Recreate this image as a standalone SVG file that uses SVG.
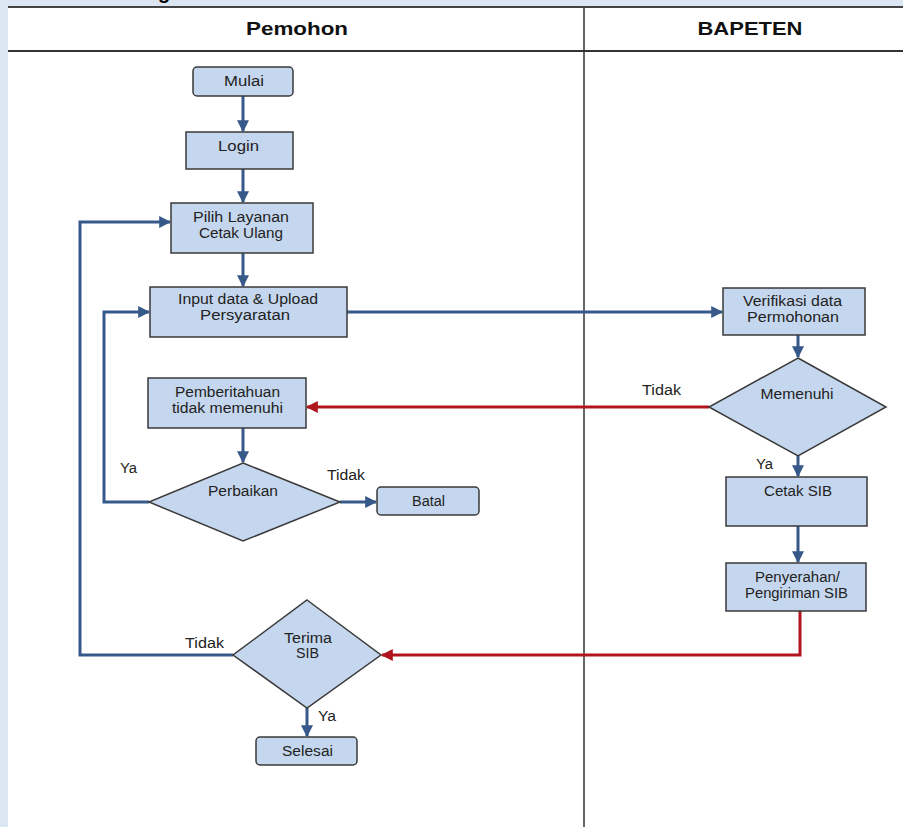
<svg xmlns="http://www.w3.org/2000/svg" width="903" height="827" viewBox="0 0 903 827">
<style>
.n{fill:#c5d7ee;stroke:#3a3a3a;stroke-width:1.5}
.t{font-family:"Liberation Sans",Arial,sans-serif;font-size:14px;fill:#222;text-anchor:middle}
.l{font-family:"Liberation Sans",Arial,sans-serif;font-size:14px;fill:#222}
.h{font-family:"Liberation Sans",Arial,sans-serif;font-size:18px;font-weight:bold;fill:#111;text-anchor:middle}
.b{fill:none;stroke:#36598a;stroke-width:3}
.r{fill:none;stroke:#b0141c;stroke-width:3}
</style>
<defs>
<marker id="ab" viewBox="0 0 10 10" refX="9" refY="5" markerWidth="4" markerHeight="4" orient="auto" markerUnits="strokeWidth"><path d="M0,0 L10,5 L0,10 z" fill="#36598a"/></marker>
<marker id="ar" viewBox="0 0 10 10" refX="9" refY="5" markerWidth="4" markerHeight="4" orient="auto" markerUnits="strokeWidth"><path d="M0,0 L10,5 L0,10 z" fill="#b0141c"/></marker>
</defs>
<rect x="0" y="0" width="903" height="827" fill="#dce6f2"/>
<rect x="8" y="7" width="895" height="820" fill="#ffffff"/>
<text x="158" y="-1" font-family="Liberation Sans,Arial,sans-serif" font-size="20" font-weight="bold" fill="#000">g</text>
<g id="lanes">
<line x1="8" y1="7" x2="903" y2="7" stroke="#444" stroke-width="2"/>
<line x1="8" y1="51" x2="903" y2="51" stroke="#333" stroke-width="2"/>
<line x1="584" y1="7" x2="584" y2="827" stroke="#333" stroke-width="1.5"/>
<text class="h" x="297" y="35" textLength="102" lengthAdjust="spacingAndGlyphs">Pemohon</text>
<text class="h" x="750" y="35" textLength="105" lengthAdjust="spacingAndGlyphs">BAPETEN</text>
</g>
<g id="connectors">
<line class="b" x1="243" y1="96" x2="243" y2="131" marker-end="url(#ab)"/>
<line class="b" x1="243" y1="169" x2="243" y2="202" marker-end="url(#ab)"/>
<line class="b" x1="243" y1="253" x2="243" y2="286" marker-end="url(#ab)"/>
<line class="b" x1="347" y1="312" x2="722" y2="312" marker-end="url(#ab)"/>
<line class="b" x1="798" y1="335" x2="798" y2="357" marker-end="url(#ab)"/>
<line class="r" x1="709" y1="407" x2="307" y2="407" marker-end="url(#ar)"/>
<line class="b" x1="798" y1="456" x2="798" y2="476" marker-end="url(#ab)"/>
<line class="b" x1="243" y1="428" x2="243" y2="462" marker-end="url(#ab)"/>
<polyline class="b" points="149,502 104,502 104,312 149,312" marker-end="url(#ab)"/>
<line class="b" x1="340" y1="502" x2="376" y2="502" marker-end="url(#ab)"/>
<line class="b" x1="798" y1="526" x2="798" y2="562" marker-end="url(#ab)"/>
<polyline class="r" points="800,611 800,655 382,655" marker-end="url(#ar)"/>
<polyline class="b" points="233,655 80,655 80,222 170,222" marker-end="url(#ab)"/>
<line class="b" x1="307" y1="708" x2="307" y2="736" marker-end="url(#ab)"/>
<text class="l" x="642" y="395" textLength="39" lengthAdjust="spacingAndGlyphs">Tidak</text>
<text class="l" x="756" y="469" textLength="17" lengthAdjust="spacingAndGlyphs">Ya</text>
<text class="l" x="120" y="473" textLength="17" lengthAdjust="spacingAndGlyphs">Ya</text>
<text class="l" x="327" y="480" textLength="38" lengthAdjust="spacingAndGlyphs">Tidak</text>
<text class="l" x="185" y="648" textLength="39" lengthAdjust="spacingAndGlyphs">Tidak</text>
<text class="l" x="318" y="721" textLength="18" lengthAdjust="spacingAndGlyphs">Ya</text>
</g>
<g id="mulai"><rect class="n" x="193" y="67" width="100" height="29" rx="4"/><text class="t" x="244" y="86" textLength="40" lengthAdjust="spacingAndGlyphs">Mulai</text></g>
<g id="login"><rect class="n" x="186" y="132" width="107" height="37"/><text class="t" x="238.5" y="151" textLength="41" lengthAdjust="spacingAndGlyphs">Login</text></g>
<g id="pilih"><rect class="n" x="171" y="203" width="142" height="50"/><text class="t" x="241" y="222" textLength="96" lengthAdjust="spacingAndGlyphs">Pilih Layanan</text><text class="t" x="241" y="238" textLength="84" lengthAdjust="spacingAndGlyphs">Cetak Ulang</text></g>
<g id="input"><rect class="n" x="150" y="287" width="197" height="50"/><text class="t" x="248" y="304" textLength="140" lengthAdjust="spacingAndGlyphs">Input data &amp; Upload</text><text class="t" x="245" y="320" textLength="90" lengthAdjust="spacingAndGlyphs">Persyaratan</text></g>
<g id="verifikasi"><rect class="n" x="723" y="288" width="142" height="47"/><text class="t" x="792.5" y="306" textLength="99" lengthAdjust="spacingAndGlyphs">Verifikasi data</text><text class="t" x="793" y="322" textLength="92" lengthAdjust="spacingAndGlyphs">Permohonan</text></g>
<g id="memenuhi"><polygon class="n" points="798,358 886,407 798,456 709,407"/><text class="t" x="797" y="399" textLength="73" lengthAdjust="spacingAndGlyphs">Memenuhi</text></g>
<g id="pemberitahuan"><rect class="n" x="148" y="378" width="158" height="50"/><text class="t" x="227.5" y="397" textLength="105" lengthAdjust="spacingAndGlyphs">Pemberitahuan</text><text class="t" x="227.5" y="413" textLength="111" lengthAdjust="spacingAndGlyphs">tidak memenuhi</text></g>
<g id="perbaikan"><polygon class="n" points="243,463 340,502 243,541 149,502"/><text class="t" x="243" y="496" textLength="70" lengthAdjust="spacingAndGlyphs">Perbaikan</text></g>
<g id="batal"><rect class="n" x="377" y="487" width="102" height="28" rx="4"/><text class="t" x="428.5" y="506" textLength="33" lengthAdjust="spacingAndGlyphs">Batal</text></g>
<g id="cetak"><rect class="n" x="726" y="477" width="141" height="49"/><text class="t" x="798" y="496" textLength="68" lengthAdjust="spacingAndGlyphs">Cetak SIB</text></g>
<g id="penyerahan"><rect class="n" x="726" y="563" width="140" height="48"/><text class="t" x="797.5" y="582" textLength="85" lengthAdjust="spacingAndGlyphs">Penyerahan/</text><text class="t" x="796.5" y="598" textLength="103" lengthAdjust="spacingAndGlyphs">Pengiriman SIB</text></g>
<g id="terima"><polygon class="n" points="307,600 381,655 307,708 233,655"/><text class="t" x="308" y="643" textLength="48" lengthAdjust="spacingAndGlyphs">Terima</text><text class="t" x="307.5" y="658" textLength="23" lengthAdjust="spacingAndGlyphs">SIB</text></g>
<g id="selesai"><rect class="n" x="256" y="737" width="101" height="28" rx="4"/><text class="t" x="307.5" y="756" textLength="51" lengthAdjust="spacingAndGlyphs">Selesai</text></g>
</svg>
